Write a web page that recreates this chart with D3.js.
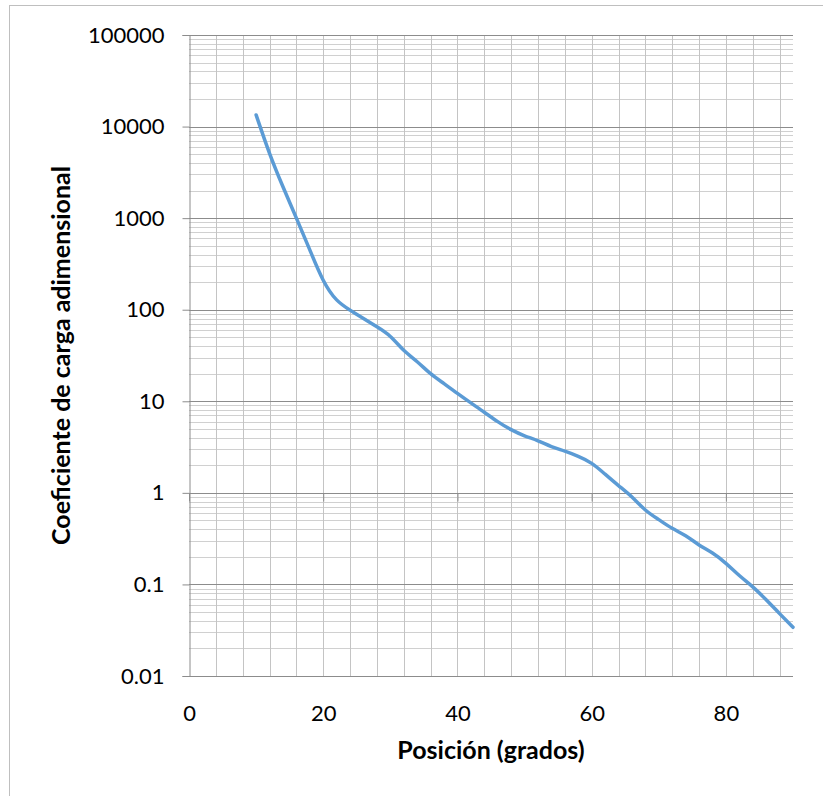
<!DOCTYPE html>
<html>
<head>
<meta charset="utf-8">
<script src="https://cdn.jsdelivr.net/npm/d3@7"></script>
<style>
  html, body { margin: 0; padding: 0; background: #fff; }
  svg { display: block; }
  text { font-family: Lato, "Open Sans", sans-serif; fill: #000; }
</style>
</head>
<body>
<svg id="chart" width="823" height="796"></svg>
<script>
// ---- data ----
const positions = [10,12,14,16,18,20,22,24,26,28,30,32,34,36,38,40,42,44,46,48,50,52,54,56,58,60,62,64,66,68,70,72,74,76,78,80,82,84,86,88,90];
const coefficients = [13400,5100,2200,1000,450,210,128,99,80,65,51,36,27,20,15.6,12.2,9.6,7.6,6.0,4.9,4.2,3.7,3.2,2.85,2.5,2.1,1.6,1.2,0.9,0.65,0.51,0.41,0.34,0.27,0.22,0.17,0.125,0.094,0.068,0.048,0.034];
const xTicks = [0,20,40,60,80];
const yTicks = [0.01,0.1,1,10,100,1000,10000,100000];
const yTickLabels = ["0.01","0.1","1","10","100","1000","10000","100000"];
const xTitle = "Posición (grados)";
const yTitle = "Coeficiente de carga adimensional";

// ---- layout ----
const svg = d3.select("#chart");
const L = 189, R = 793, T = 35, B = 676;
const x = d3.scaleLinear().domain([0, 90]).range([L, R]);
const y = d3.scaleLog().domain([0.01, 100000]).range([B, T]);

// outer border
svg.append("rect").attr("x", 9.5).attr("y", 5.5).attr("width", 900).attr("height", 900)
  .attr("fill", "none").attr("stroke", "#bfbfbf").attr("stroke-width", 1);

// minor horizontal gridlines
const minorY = [];
for (let d = -2; d <= 4; d++) for (let k = 2; k <= 9; k++) minorY.push(k * Math.pow(10, d));
svg.append("g").selectAll("line").data(minorY).join("line")
  .attr("x1", L).attr("x2", R)
  .attr("y1", d => Math.round(y(d)) + 0.5).attr("y2", d => Math.round(y(d)) + 0.5)
  .attr("stroke", "#d0d0d0").attr("stroke-width", 1);

// vertical gridlines (every 4)
const vx = d3.range(4, 90, 4);
svg.append("g").selectAll("line").data(vx).join("line")
  .attr("x1", d => Math.round(x(d)) + 0.5).attr("x2", d => Math.round(x(d)) + 0.5)
  .attr("y1", T).attr("y2", B)
  .attr("stroke", "#c4c4c4").attr("stroke-width", 1);

// major horizontal gridlines
svg.append("g").selectAll("line").data(yTicks).join("line")
  .attr("x1", L).attr("x2", R)
  .attr("y1", d => Math.round(y(d)) + 0.5).attr("y2", d => Math.round(y(d)) + 0.5)
  .attr("stroke", "#8c8c8c").attr("stroke-width", 1);

// y axis
const yAxis = d3.axisLeft(y).tickValues(yTicks).tickSize(7).tickPadding(18)
  .tickFormat((d, i) => yTickLabels[i]);
const gy = svg.append("g").attr("transform", `translate(${L + 0.5},0)`).call(yAxis);
gy.select(".domain").attr("stroke", "#8c8c8c");
gy.selectAll(".tick line").attr("stroke", "#8c8c8c");
gy.selectAll(".tick text").style("font-size", "22px").style("font-family", "Lato, sans-serif").attr("fill", "#000");

// x axis crossing at y = 1 (ticks only)
const xAxisCross = d3.axisBottom(x).tickValues(xTicks).tickSize(8).tickFormat("");
const gxc = svg.append("g").attr("transform", `translate(0,${Math.round(y(1)) + 0.5})`).call(xAxisCross);
gxc.select(".domain").attr("stroke", "#8c8c8c").attr("d", `M${L},0H${R}`);
gxc.selectAll(".tick line").attr("stroke", "#8c8c8c");

// x tick labels at bottom
const xAxisLabels = d3.axisBottom(x).tickValues(xTicks).tickSize(0).tickPadding(29);
const gx = svg.append("g").attr("transform", `translate(0,${B})`).call(xAxisLabels);
gx.select(".domain").remove();
gx.selectAll(".tick text").style("font-size", "22px").style("font-family", "Lato, sans-serif").attr("fill", "#000");

// line
const line = d3.line()
  .x((d, i) => x(positions[i]))
  .y(d => y(d))
  .curve(d3.curveNatural);
svg.append("path").datum(coefficients)
  .attr("d", line)
  .attr("fill", "none")
  .attr("stroke", "#5b9bd5")
  .attr("stroke-width", 3.5)
  .attr("stroke-linecap", "round")
  .attr("stroke-linejoin", "round");

// axis titles
svg.append("text").attr("x", (L + R) / 2).attr("y", 759)
  .attr("text-anchor", "middle").style("font-size", "25px").style("font-weight", "bold")
  .text(xTitle);
svg.append("text")
  .attr("transform", `translate(70,${(T + B) / 2}) rotate(-90)`)
  .attr("text-anchor", "middle").style("font-size", "25px").style("font-weight", "bold")
  .text(yTitle);
</script>
</body>
</html>
